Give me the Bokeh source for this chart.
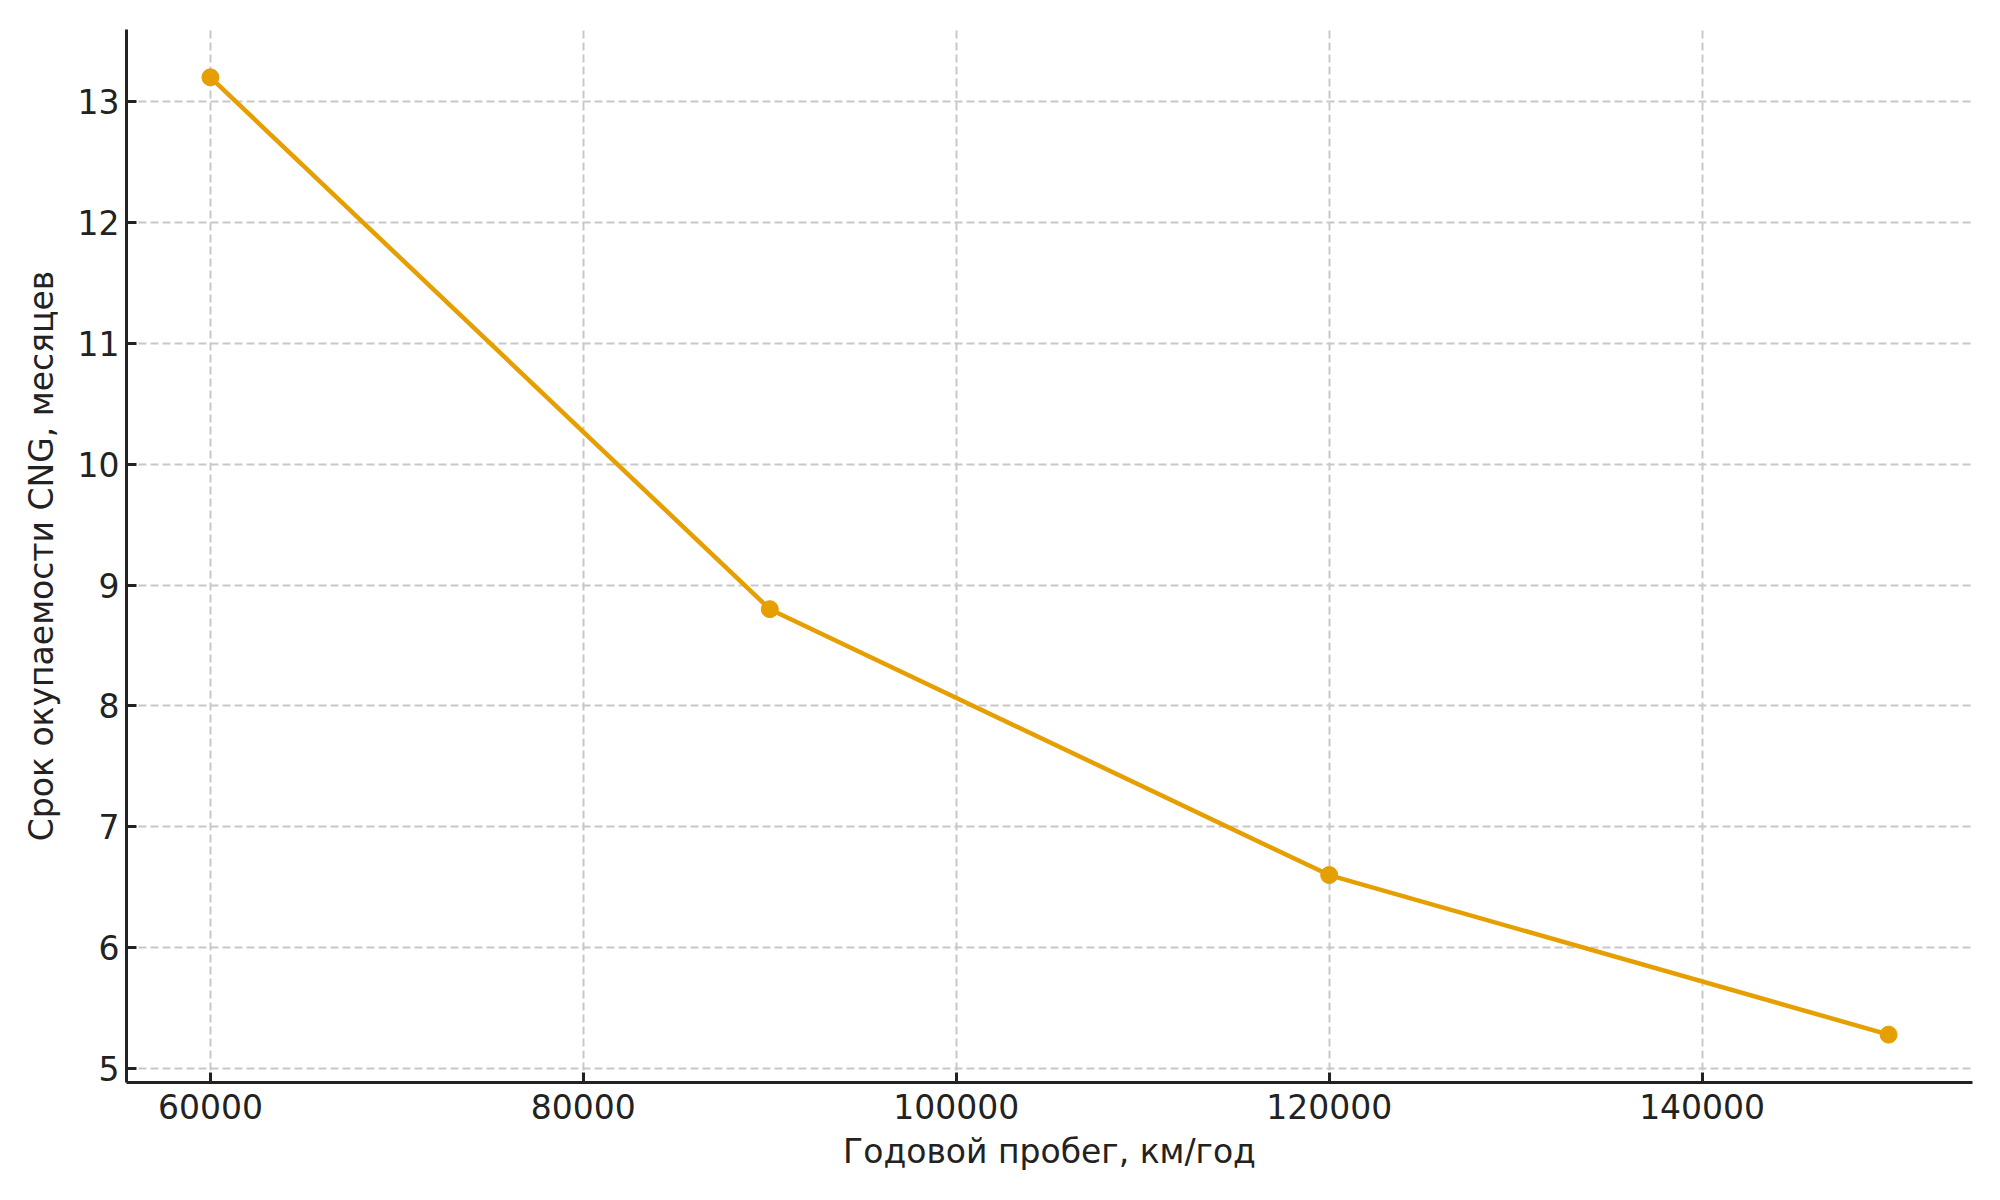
from bokeh.plotting import figure
from bokeh.models import Range1d, FixedTicker
from bokeh.embed import file_html
from bokeh.resources import INLINE

mileage = [60000, 90000, 120000, 150000]
payback_months = [13.2, 8.8, 6.6, 5.28]
x_ticks = [60000, 80000, 100000, 120000, 140000]
y_ticks = [5, 6, 7, 8, 9, 10, 11, 12, 13]
x_label = "Годовой пробег, км/год"
y_label = "Срок окупаемости CNG, месяцев"

color = "#E69F00"
ink = "#222222"
font = "DejaVu Sans"

p = figure(output_backend="svg", toolbar_location=None,
           frame_width=1846, frame_height=1053,
           min_border_left=126, min_border_top=29, min_border_right=16, min_border_bottom=100,
           x_range=Range1d(55500, 154500), y_range=Range1d(4.884, 13.596))
p.outline_line_color = None
p.background_fill_color = "white"
p.border_fill_color = "white"

p.line(mileage, payback_months, line_color=color, line_width=4.5)
p.scatter(mileage, payback_months, size=17, fill_color=color, line_color=color)

for ax, ticks in ((p.xaxis[0], x_ticks), (p.yaxis[0], y_ticks)):
    ax.ticker = FixedTicker(ticks=ticks)
    ax.major_tick_in = 10
    ax.major_tick_out = 0
    ax.minor_tick_in = 0
    ax.minor_tick_out = 0
    ax.major_tick_line_width = 3
    ax.major_tick_line_color = ink
    ax.axis_line_width = 3
    ax.axis_line_color = ink
    ax.major_label_text_font = font
    ax.major_label_text_font_size = "33px"
    ax.major_label_text_color = ink
    ax.axis_label_text_font = font
    ax.axis_label_text_font_size = "33px"
    ax.axis_label_text_font_style = "normal"
    ax.axis_label_text_color = ink

p.xaxis.axis_label = x_label
p.yaxis.axis_label = y_label
p.xaxis.major_label_standoff = 11
p.yaxis.major_label_standoff = 7
p.xaxis.axis_label_standoff = 10
p.yaxis.axis_label_standoff = 14
p.xaxis[0].formatter.use_scientific = False

for g in (p.xgrid[0], p.ygrid[0]):
    g.grid_line_color = "#c8c8c8"
    g.grid_line_width = 2
    g.grid_line_dash = "8 4"

open("out.html", "w").write(file_html(p, INLINE))
